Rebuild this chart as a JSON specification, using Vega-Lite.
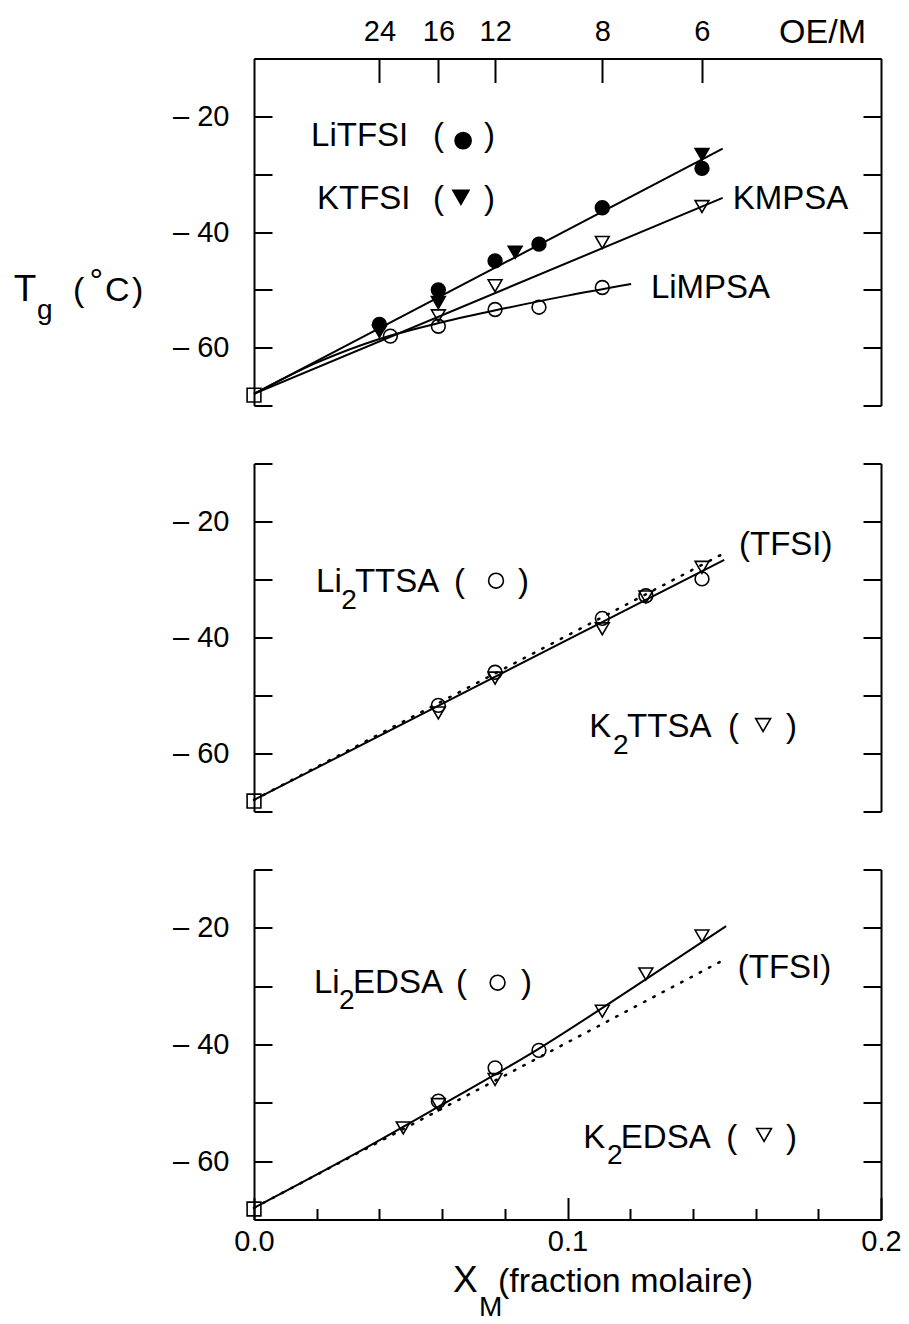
{
  "$schema": "https://vega.github.io/schema/vega-lite/v6.json",
  "padding": {"left": 13, "top": 15.5, "right": 10, "bottom": 0},
  "background": "white",
  "spacing": 58,
  "bounds": "flush",
  "config": {
    "view": {"stroke": null},
    "axis": {
      "grid": false,
      "title": null,
      "domainColor": "black",
      "domainWidth": 2,
      "tickColor": "black",
      "tickWidth": 2,
      "labelColor": "black",
      "labelFont": "Liberation Sans",
      "labelFontSize": 29,
      "labelFlush": false,
      "labelOverlap": false
    },
    "text": {"font": "Liberation Sans", "color": "black", "align": "left", "baseline": "alphabetic"}
  },
  "datasets": {
    "fits": [
      {"fit": "TFSI", "x": 0, "y": -68},
      {"fit": "TFSI", "x": 0.1495, "y": -25.6},
      {"fit": "KMPSA", "x": 0, "y": -68},
      {"fit": "KMPSA", "x": 0.1495, "y": -34.1},
      {"fit": "LiMPSA", "x": 0, "y": -68},
      {"fit": "LiMPSA", "x": 0.02, "y": -62.6},
      {"fit": "LiMPSA", "x": 0.04, "y": -58.5},
      {"fit": "LiMPSA", "x": 0.06, "y": -55.6},
      {"fit": "LiMPSA", "x": 0.08, "y": -53.2},
      {"fit": "LiMPSA", "x": 0.1, "y": -51.0},
      {"fit": "LiMPSA", "x": 0.1203, "y": -49.0},
      {"fit": "TTSA", "x": 0, "y": -68},
      {"fit": "TTSA", "x": 0.15, "y": -26.6},
      {"fit": "EDSA", "x": 0, "y": -68},
      {"fit": "EDSA", "x": 0.03, "y": -59.4},
      {"fit": "EDSA", "x": 0.06, "y": -50.3},
      {"fit": "EDSA", "x": 0.09, "y": -41.0},
      {"fit": "EDSA", "x": 0.12, "y": -30.6},
      {"fit": "EDSA", "x": 0.1506, "y": -19.7}
    ],
    "pts": [
      {"series": "POE", "x": 0, "y": -68.2},
      {"series": "LiTFSI", "x": 0.04, "y": -56.0},
      {"series": "LiTFSI", "x": 0.0588, "y": -50.0},
      {"series": "LiTFSI", "x": 0.0769, "y": -45.0},
      {"series": "LiTFSI", "x": 0.0909, "y": -42.1},
      {"series": "LiTFSI", "x": 0.1111, "y": -35.8},
      {"series": "LiTFSI", "x": 0.1429, "y": -29.0},
      {"series": "KTFSI", "x": 0.04, "y": -57.2},
      {"series": "KTFSI", "x": 0.0588, "y": -52.2},
      {"series": "KTFSI", "x": 0.0833, "y": -43.5},
      {"series": "KTFSI", "x": 0.1429, "y": -26.6},
      {"series": "KMPSA", "x": 0.0588, "y": -54.5},
      {"series": "KMPSA", "x": 0.0769, "y": -49.3},
      {"series": "KMPSA", "x": 0.1111, "y": -41.8},
      {"series": "KMPSA", "x": 0.1429, "y": -35.6},
      {"series": "LiMPSA", "x": 0.0435, "y": -58.0},
      {"series": "LiMPSA", "x": 0.0588, "y": -56.3},
      {"series": "LiMPSA", "x": 0.0769, "y": -53.4},
      {"series": "LiMPSA", "x": 0.0909, "y": -53.0},
      {"series": "LiMPSA", "x": 0.1111, "y": -49.6},
      {"series": "Li2TTSA", "x": 0.0588, "y": -51.7},
      {"series": "Li2TTSA", "x": 0.0769, "y": -46.0},
      {"series": "Li2TTSA", "x": 0.1111, "y": -36.7},
      {"series": "Li2TTSA", "x": 0.125, "y": -32.8},
      {"series": "Li2TTSA", "x": 0.1429, "y": -29.9},
      {"series": "K2TTSA", "x": 0.0588, "y": -53.0},
      {"series": "K2TTSA", "x": 0.0769, "y": -47.0},
      {"series": "K2TTSA", "x": 0.1111, "y": -38.5},
      {"series": "K2TTSA", "x": 0.125, "y": -33.0},
      {"series": "K2TTSA", "x": 0.1429, "y": -27.9},
      {"series": "Li2EDSA", "x": 0.0588, "y": -49.7},
      {"series": "Li2EDSA", "x": 0.0769, "y": -44.0},
      {"series": "Li2EDSA", "x": 0.0909, "y": -41.0},
      {"series": "K2EDSA", "x": 0.0476, "y": -54.3},
      {"series": "K2EDSA", "x": 0.0588, "y": -50.3},
      {"series": "K2EDSA", "x": 0.0769, "y": -46.0},
      {"series": "K2EDSA", "x": 0.1111, "y": -34.3},
      {"series": "K2EDSA", "x": 0.125, "y": -27.9},
      {"series": "K2EDSA", "x": 0.1429, "y": -21.4}
    ],
    "keys": [
      {"panel": 1, "series": "LiTFSI", "x": 0.0667, "y": -24.2},
      {"panel": 1, "series": "KTFSI", "x": 0.066, "y": -34.0},
      {"panel": 2, "series": "Li2TTSA", "x": 0.0772, "y": -30.2},
      {"panel": 2, "series": "K2TTSA", "x": 0.1624, "y": -55.1},
      {"panel": 3, "series": "Li2EDSA", "x": 0.0777, "y": -29.4},
      {"panel": 3, "series": "K2EDSA", "x": 0.1627, "y": -55.5}
    ],
    "labels": [
      {"panel": 1, "text": "LiTFSI", "x": 0.0182, "y": -25.1},
      {"panel": 1, "text": "(", "x": 0.0571, "y": -25.1},
      {"panel": 1, "text": ")", "x": 0.0734, "y": -25.1},
      {"panel": 1, "text": "KTFSI", "x": 0.0201, "y": -36.0},
      {"panel": 1, "text": "(", "x": 0.0571, "y": -36.0},
      {"panel": 1, "text": ")", "x": 0.0734, "y": -36.0},
      {"panel": 1, "text": "KMPSA", "x": 0.1527, "y": -36.0},
      {"panel": 1, "text": "LiMPSA", "x": 0.1266, "y": -51.4},
      {"panel": 2, "text": "Li", "x": 0.0198, "y": -32.2},
      {"panel": 2, "text": "TTSA", "x": 0.0322, "y": -32.2},
      {"panel": 2, "text": "(", "x": 0.0638, "y": -32.2},
      {"panel": 2, "text": ")", "x": 0.0842, "y": -32.2},
      {"panel": 2, "text": "(TFSI)", "x": 0.1547, "y": -25.8},
      {"panel": 2, "text": "K", "x": 0.1069, "y": -57.2},
      {"panel": 2, "text": "TTSA", "x": 0.119, "y": -57.2},
      {"panel": 2, "text": "(", "x": 0.1512, "y": -57.2},
      {"panel": 2, "text": ")", "x": 0.1697, "y": -57.2},
      {"panel": 3, "text": "Li", "x": 0.0191, "y": -31.15},
      {"panel": 3, "text": "EDSA", "x": 0.0316, "y": -31.15},
      {"panel": 3, "text": "(", "x": 0.0644, "y": -31.15},
      {"panel": 3, "text": ")", "x": 0.0852, "y": -31.15},
      {"panel": 3, "text": "(TFSI)", "x": 0.1543, "y": -28.6},
      {"panel": 3, "text": "K", "x": 0.105, "y": -57.7},
      {"panel": 3, "text": "EDSA", "x": 0.117, "y": -57.7},
      {"panel": 3, "text": "(", "x": 0.1506, "y": -57.7},
      {"panel": 3, "text": ")", "x": 0.1697, "y": -57.7}
    ],
    "small": [
      {"panel": 1, "text": "g", "x": -0.0692, "y": -55.1},
      {"panel": 2, "text": "2", "x": 0.0278, "y": -35.1},
      {"panel": 2, "text": "2", "x": 0.1145, "y": -60.0},
      {"panel": 3, "text": "2", "x": 0.0271, "y": -33.9},
      {"panel": 3, "text": "2", "x": 0.1126, "y": -60.5},
      {"panel": 3, "text": "M", "x": 0.0718, "y": -86.5}
    ],
    "medium": [
      {"panel": 1, "text": "(", "x": -0.0577, "y": -52.0},
      {"panel": 1, "text": "°", "x": -0.0525, "y": -50.3},
      {"panel": 1, "text": "C", "x": -0.0475, "y": -52.0},
      {"panel": 1, "text": ")", "x": -0.0389, "y": -52.0},
      {"panel": 1, "text": "OE/M", "x": 0.1675, "y": -7.3},
      {"panel": 3, "text": "(fraction molaire)", "x": 0.0778, "y": -82.35}
    ],
    "big": [
      {"panel": 1, "text": "T", "x": -0.0766, "y": -52.0},
      {"panel": 3, "text": "X", "x": 0.0635, "y": -82.35}
    ]
  },
  "vconcat": [
    {
      "width": 627,
      "height": 347,
      "resolve": {"axis": {"x": "independent", "y": "independent"}},
      "layer": [
        {
          "data": {"name": "fits"},
          "transform": [{"filter": "datum.fit === 'TFSI'"}],
          "mark": {"type": "line", "color": "black", "strokeWidth": 2},
          "encoding": {
            "x": {"field": "x", "type": "quantitative", "scale": {"domain": [0, 0.2]},
              "axis": {"orient": "top", "values": [0.04, 0.0588235, 0.0769231, 0.1111111, 0.1428571],
                "labelExpr": "format(round(1 / datum.value - 1), 'd')", "ticks": false, "labelPadding": 12}},
            "y": {"field": "y", "type": "quantitative", "scale": {"domain": [-70, -10]},
              "axis": {"orient": "left", "values": [-60, -40, -20], "ticks": false, "labelPadding": 25,
                "labelExpr": "'– ' + format(abs(datum.value), 'd')"}}
          }
        },
        {
          "data": {"name": "fits"},
          "transform": [{"filter": "datum.fit === 'KMPSA' || datum.fit === 'LiMPSA'"}],
          "mark": {"type": "line", "color": "black", "strokeWidth": 2, "interpolate": "monotone"},
          "encoding": {
            "detail": {"field": "fit"},
            "x": {"field": "x", "type": "quantitative", "scale": {"domain": [0, 0.2]},
              "axis": {"orient": "top", "values": [0.04, 0.0588235, 0.0769231, 0.1111111, 0.1428571],
                "labels": false, "domain": false, "tickSize": -24}},
            "y": {"field": "y", "type": "quantitative", "scale": {"domain": [-70, -10]},
              "axis": {"orient": "left", "values": [-70, -60, -50, -40, -30, -20, -10], "labels": false, "domain": false, "tickSize": -18}}
          }
        },
        {
          "data": {"name": "pts"},
          "transform": [{"filter": {"field": "series", "oneOf": ["POE", "LiTFSI", "KTFSI", "KMPSA", "LiMPSA"]}}],
          "mark": {"type": "point", "stroke": "black", "strokeWidth": 1.6, "opacity": 1, "size": 190},
          "encoding": {
            "x": {"field": "x", "type": "quantitative", "axis": null},
            "y": {"field": "y", "type": "quantitative",
              "axis": {"orient": "right", "values": [-70, -60, -50, -40, -30, -20, -10], "labels": false, "tickSize": -18}},
            "shape": {"field": "series", "type": "nominal", "legend": null,
              "scale": {"domain": ["POE", "LiTFSI", "KTFSI", "KMPSA", "LiMPSA", "Li2TTSA", "K2TTSA", "Li2EDSA", "K2EDSA"],
                "range": ["square", "circle", "triangle-down", "triangle-down", "circle", "circle", "triangle-down", "circle", "triangle-down"]}},
            "fill": {"field": "series", "type": "nominal", "legend": null,
              "scale": {"domain": ["POE", "LiTFSI", "KTFSI", "KMPSA", "LiMPSA", "Li2TTSA", "K2TTSA", "Li2EDSA", "K2EDSA"],
                "range": ["transparent", "black", "black", "transparent", "transparent", "transparent", "transparent", "transparent", "transparent"]}}
          }
        },
        {
          "data": {"name": "keys"},
          "transform": [{"filter": "datum.panel === 1"}],
          "mark": {"type": "point", "stroke": "black", "strokeWidth": 1.6, "opacity": 1, "size": 260},
          "encoding": {
            "x": {"field": "x", "type": "quantitative", "axis": null},
            "y": {"field": "y", "type": "quantitative", "axis": null},
            "shape": {"field": "series", "type": "nominal", "legend": null,
              "scale": {"domain": ["POE", "LiTFSI", "KTFSI", "KMPSA", "LiMPSA", "Li2TTSA", "K2TTSA", "Li2EDSA", "K2EDSA"],
                "range": ["square", "circle", "triangle-down", "triangle-down", "circle", "circle", "triangle-down", "circle", "triangle-down"]}},
            "fill": {"field": "series", "type": "nominal", "legend": null,
              "scale": {"domain": ["POE", "LiTFSI", "KTFSI", "KMPSA", "LiMPSA", "Li2TTSA", "K2TTSA", "Li2EDSA", "K2EDSA"],
                "range": ["transparent", "black", "black", "transparent", "transparent", "transparent", "transparent", "transparent", "transparent"]}}
          }
        },
        {
          "data": {"name": "labels"},
          "transform": [{"filter": "datum.panel === 1"}],
          "mark": {"type": "text", "fontSize": 33},
          "encoding": {
            "x": {"field": "x", "type": "quantitative", "axis": null},
            "y": {"field": "y", "type": "quantitative", "axis": null},
            "text": {"field": "text"}
          }
        },
        {
          "data": {"name": "small"},
          "transform": [{"filter": "datum.panel === 1"}],
          "mark": {"type": "text", "fontSize": 28},
          "encoding": {
            "x": {"field": "x", "type": "quantitative", "axis": null},
            "y": {"field": "y", "type": "quantitative", "axis": null},
            "text": {"field": "text"}
          }
        },
        {
          "data": {"name": "medium"},
          "transform": [{"filter": "datum.panel === 1"}],
          "mark": {"type": "text", "fontSize": 34},
          "encoding": {
            "x": {"field": "x", "type": "quantitative", "axis": null},
            "y": {"field": "y", "type": "quantitative", "axis": null},
            "text": {"field": "text"}
          }
        },
        {
          "data": {"name": "big"},
          "transform": [{"filter": "datum.panel === 1"}],
          "mark": {"type": "text", "fontSize": 37},
          "encoding": {
            "x": {"field": "x", "type": "quantitative", "axis": null},
            "y": {"field": "y", "type": "quantitative", "axis": null},
            "text": {"field": "text"}
          }
        }
      ]
    },
    {
      "width": 627,
      "height": 348,
      "resolve": {"axis": {"x": "independent", "y": "independent"}},
      "layer": [
        {
          "data": {"name": "fits"},
          "transform": [{"filter": "datum.fit === 'TFSI'"}],
          "mark": {"type": "line", "color": "black", "strokeWidth": 2.5, "strokeDash": [1.5, 9], "strokeCap": "round"},
          "encoding": {
            "x": {"field": "x", "type": "quantitative", "scale": {"domain": [0, 0.2]}, "axis": null},
            "y": {"field": "y", "type": "quantitative", "scale": {"domain": [-70, -10]},
              "axis": {"orient": "left", "values": [-60, -40, -20], "ticks": false, "labelPadding": 25,
                "labelExpr": "'– ' + format(abs(datum.value), 'd')"}}
          }
        },
        {
          "data": {"name": "fits"},
          "transform": [{"filter": "datum.fit === 'TTSA'"}],
          "mark": {"type": "line", "color": "black", "strokeWidth": 2},
          "encoding": {
            "x": {"field": "x", "type": "quantitative", "scale": {"domain": [0, 0.2]}, "axis": null},
            "y": {"field": "y", "type": "quantitative", "scale": {"domain": [-70, -10]},
              "axis": {"orient": "left", "values": [-70, -60, -50, -40, -30, -20, -10], "labels": false, "domain": false, "tickSize": -18}}
          }
        },
        {
          "data": {"name": "pts"},
          "transform": [{"filter": {"field": "series", "oneOf": ["POE", "Li2TTSA", "K2TTSA"]}}],
          "mark": {"type": "point", "stroke": "black", "strokeWidth": 1.6, "opacity": 1, "size": 190},
          "encoding": {
            "x": {"field": "x", "type": "quantitative", "axis": null},
            "y": {"field": "y", "type": "quantitative",
              "axis": {"orient": "right", "values": [-70, -60, -50, -40, -30, -20, -10], "labels": false, "tickSize": -18}},
            "shape": {"field": "series", "type": "nominal", "legend": null,
              "scale": {"domain": ["POE", "LiTFSI", "KTFSI", "KMPSA", "LiMPSA", "Li2TTSA", "K2TTSA", "Li2EDSA", "K2EDSA"],
                "range": ["square", "circle", "triangle-down", "triangle-down", "circle", "circle", "triangle-down", "circle", "triangle-down"]}},
            "fill": {"field": "series", "type": "nominal", "legend": null,
              "scale": {"domain": ["POE", "LiTFSI", "KTFSI", "KMPSA", "LiMPSA", "Li2TTSA", "K2TTSA", "Li2EDSA", "K2EDSA"],
                "range": ["transparent", "black", "black", "transparent", "transparent", "transparent", "transparent", "transparent", "transparent"]}}
          }
        },
        {
          "data": {"name": "keys"},
          "transform": [{"filter": "datum.panel === 2"}],
          "mark": {"type": "point", "stroke": "black", "strokeWidth": 1.6, "opacity": 1, "size": 220},
          "encoding": {
            "x": {"field": "x", "type": "quantitative", "axis": null},
            "y": {"field": "y", "type": "quantitative", "axis": null},
            "shape": {"field": "series", "type": "nominal", "legend": null,
              "scale": {"domain": ["POE", "LiTFSI", "KTFSI", "KMPSA", "LiMPSA", "Li2TTSA", "K2TTSA", "Li2EDSA", "K2EDSA"],
                "range": ["square", "circle", "triangle-down", "triangle-down", "circle", "circle", "triangle-down", "circle", "triangle-down"]}},
            "fill": {"field": "series", "type": "nominal", "legend": null,
              "scale": {"domain": ["POE", "LiTFSI", "KTFSI", "KMPSA", "LiMPSA", "Li2TTSA", "K2TTSA", "Li2EDSA", "K2EDSA"],
                "range": ["transparent", "black", "black", "transparent", "transparent", "transparent", "transparent", "transparent", "transparent"]}}
          }
        },
        {
          "data": {"name": "labels"},
          "transform": [{"filter": "datum.panel === 2"}],
          "mark": {"type": "text", "fontSize": 33},
          "encoding": {
            "x": {"field": "x", "type": "quantitative", "axis": null},
            "y": {"field": "y", "type": "quantitative", "axis": null},
            "text": {"field": "text"}
          }
        },
        {
          "data": {"name": "small"},
          "transform": [{"filter": "datum.panel === 2"}],
          "mark": {"type": "text", "fontSize": 28},
          "encoding": {
            "x": {"field": "x", "type": "quantitative", "axis": null},
            "y": {"field": "y", "type": "quantitative", "axis": null},
            "text": {"field": "text"}
          }
        }
      ]
    },
    {
      "width": 627,
      "height": 350,
      "resolve": {"axis": {"x": "independent", "y": "independent"}},
      "layer": [
        {
          "data": {"name": "fits"},
          "transform": [{"filter": "datum.fit === 'TFSI'"}],
          "mark": {"type": "line", "color": "black", "strokeWidth": 2.5, "strokeDash": [1.5, 9], "strokeCap": "round"},
          "encoding": {
            "x": {"field": "x", "type": "quantitative", "scale": {"domain": [0, 0.2]},
              "axis": {"orient": "bottom", "values": [0, 0.1, 0.2], "format": ".1f", "ticks": false, "labelPadding": 8}},
            "y": {"field": "y", "type": "quantitative", "scale": {"domain": [-70, -10]},
              "axis": {"orient": "left", "values": [-60, -40, -20], "ticks": false, "labelPadding": 25,
                "labelExpr": "'– ' + format(abs(datum.value), 'd')"}}
          }
        },
        {
          "data": {"name": "fits"},
          "transform": [{"filter": "datum.fit === 'EDSA'"}],
          "mark": {"type": "line", "color": "black", "strokeWidth": 2, "interpolate": "monotone"},
          "encoding": {
            "x": {"field": "x", "type": "quantitative", "scale": {"domain": [0, 0.2]},
              "axis": {"orient": "bottom", "values": [0, 0.1, 0.2], "labels": false, "domain": false, "tickSize": -22}},
            "y": {"field": "y", "type": "quantitative", "scale": {"domain": [-70, -10]},
              "axis": {"orient": "left", "values": [-70, -60, -50, -40, -30, -20, -10], "labels": false, "domain": false, "tickSize": -18}}
          }
        },
        {
          "data": {"name": "pts"},
          "transform": [{"filter": {"field": "series", "oneOf": ["POE", "Li2EDSA", "K2EDSA"]}}],
          "mark": {"type": "point", "stroke": "black", "strokeWidth": 1.6, "opacity": 1, "size": 190},
          "encoding": {
            "x": {"field": "x", "type": "quantitative",
              "axis": {"orient": "bottom", "values": [0.02, 0.04, 0.06, 0.08, 0.12, 0.14, 0.16, 0.18], "labels": false, "domain": false, "tickSize": -11}},
            "y": {"field": "y", "type": "quantitative",
              "axis": {"orient": "right", "values": [-70, -60, -50, -40, -30, -20, -10], "labels": false, "tickSize": -18}},
            "shape": {"field": "series", "type": "nominal", "legend": null,
              "scale": {"domain": ["POE", "LiTFSI", "KTFSI", "KMPSA", "LiMPSA", "Li2TTSA", "K2TTSA", "Li2EDSA", "K2EDSA"],
                "range": ["square", "circle", "triangle-down", "triangle-down", "circle", "circle", "triangle-down", "circle", "triangle-down"]}},
            "fill": {"field": "series", "type": "nominal", "legend": null,
              "scale": {"domain": ["POE", "LiTFSI", "KTFSI", "KMPSA", "LiMPSA", "Li2TTSA", "K2TTSA", "Li2EDSA", "K2EDSA"],
                "range": ["transparent", "black", "black", "transparent", "transparent", "transparent", "transparent", "transparent", "transparent"]}}
          }
        },
        {
          "data": {"name": "keys"},
          "transform": [{"filter": "datum.panel === 3"}],
          "mark": {"type": "point", "stroke": "black", "strokeWidth": 1.6, "opacity": 1, "size": 220},
          "encoding": {
            "x": {"field": "x", "type": "quantitative", "axis": null},
            "y": {"field": "y", "type": "quantitative", "axis": null},
            "shape": {"field": "series", "type": "nominal", "legend": null,
              "scale": {"domain": ["POE", "LiTFSI", "KTFSI", "KMPSA", "LiMPSA", "Li2TTSA", "K2TTSA", "Li2EDSA", "K2EDSA"],
                "range": ["square", "circle", "triangle-down", "triangle-down", "circle", "circle", "triangle-down", "circle", "triangle-down"]}},
            "fill": {"field": "series", "type": "nominal", "legend": null,
              "scale": {"domain": ["POE", "LiTFSI", "KTFSI", "KMPSA", "LiMPSA", "Li2TTSA", "K2TTSA", "Li2EDSA", "K2EDSA"],
                "range": ["transparent", "black", "black", "transparent", "transparent", "transparent", "transparent", "transparent", "transparent"]}}
          }
        },
        {
          "data": {"name": "labels"},
          "transform": [{"filter": "datum.panel === 3"}],
          "mark": {"type": "text", "fontSize": 33},
          "encoding": {
            "x": {"field": "x", "type": "quantitative", "axis": null},
            "y": {"field": "y", "type": "quantitative", "axis": null},
            "text": {"field": "text"}
          }
        },
        {
          "data": {"name": "small"},
          "transform": [{"filter": "datum.panel === 3"}],
          "mark": {"type": "text", "fontSize": 28},
          "encoding": {
            "x": {"field": "x", "type": "quantitative", "axis": null},
            "y": {"field": "y", "type": "quantitative", "axis": null},
            "text": {"field": "text"}
          }
        },
        {
          "data": {"name": "medium"},
          "transform": [{"filter": "datum.panel === 3"}],
          "mark": {"type": "text", "fontSize": 34},
          "encoding": {
            "x": {"field": "x", "type": "quantitative", "axis": null},
            "y": {"field": "y", "type": "quantitative", "axis": null},
            "text": {"field": "text"}
          }
        },
        {
          "data": {"name": "big"},
          "transform": [{"filter": "datum.panel === 3"}],
          "mark": {"type": "text", "fontSize": 37},
          "encoding": {
            "x": {"field": "x", "type": "quantitative", "axis": null},
            "y": {"field": "y", "type": "quantitative", "axis": null},
            "text": {"field": "text"}
          }
        }
      ]
    }
  ]
}
